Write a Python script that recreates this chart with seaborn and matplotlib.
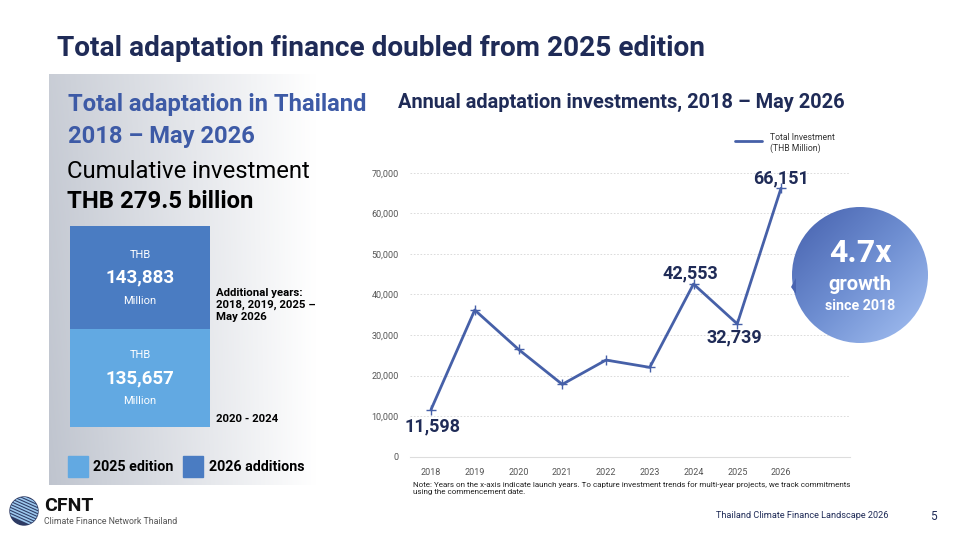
import numpy as np
import pandas as pd
import matplotlib
matplotlib.use("Agg")
import matplotlib.pyplot as plt
import seaborn as sns
from matplotlib.patches import Circle, Rectangle, Polygon
from matplotlib.colors import LinearSegmentedColormap

# ---------------- data ----------------
years = [2018, 2019, 2020, 2021, 2022, 2023, 2024, 2025, 2026]
investment = [11598, 36150, 26455, 17829, 23826, 22019, 42553, 32739, 66151]
labelled_years = [2018, 2024, 2025, 2026]
stack_labels = ["2025 edition", "2026 additions"]
stack_values = [135657, 143883]
y_ticks = [0, 10000, 20000, 30000, 40000, 50000, 60000, 70000]

sns.set_theme(style="white")
plt.rcParams['font.family'] = ['Roboto', 'DejaVu Sans']

NAVY = "#1f2b57"
LINE = "#4660a8"
BLUE_T = "#3d5aa6"
DARK_BLOCK = "#4a7cc2"
LIGHT_BLOCK = "#62a9e2"

fig = plt.figure(figsize=(9.6, 5.4), dpi=100)
W, H = 960, 540

# background axes in pixel coordinates
bg = fig.add_axes([0, 0, 1, 1])
bg.set_xlim(0, W)
bg.set_ylim(H, 0)
bg.axis("off")

# left panel gradient
px0, px1, py0, py1 = 49, 382, 74, 485
gx = np.linspace(0, 1, 300)
gy = np.linspace(0, 1, 200)
GX, GY = np.meshgrid(gx, gy)
shade = np.clip(1 - GX * 1.25, 0, 1) * (0.85 + 0.15 * GY)
c_dark = np.array([0.75, 0.77, 0.81])
img = np.ones((200, 300, 3)) - shade[..., None] * (1 - c_dark)
bg.imshow(img, extent=[px0, px1, py1, py0], aspect="auto", zorder=0)

# title
bg.text(57, 48, "Total adaptation finance doubled from 2025 edition", fontsize=20.2,
        fontweight="bold", color=NAVY, va="center", ha="left")

# left panel texts
bg.text(68, 104, "Total adaptation in Thailand", fontsize=17.1, fontweight="bold",
        color=BLUE_T, va="center")
bg.text(68, 136, "2018 \u2013 May 2026", fontsize=17.1, fontweight="bold",
        color=BLUE_T, va="center")
bg.text(67, 172, "Cumulative investment", fontsize=17.2, color="black", va="center")
bg.text(67, 201, "THB 279.5 billion", fontsize=17.2, fontweight="bold", color="black", va="center")

# stacked box via bar axes
bax = fig.add_axes([70 / W, (H - 427) / H, 140 / W, 201 / H])
bax.bar([0], [stack_values[0]], width=1, color=LIGHT_BLOCK, linewidth=0)
bax.bar([0], [stack_values[1]], bottom=[stack_values[0]], width=1, color=DARK_BLOCK, linewidth=0)
bax.set_xlim(-0.5, 0.5)
bax.set_ylim(0, sum(stack_values))
bax.axis("off")
bottom_acc = 0
for v in stack_values:
    mid = bottom_acc + v / 2
    bax.annotate(f"{v:,}", (0, mid), xytext=(0, 0), textcoords="offset pixels",
                 ha="center", va="center", fontsize=13.5, fontweight="bold", color="white")
    bax.annotate("THB", (0, mid), xytext=(0, 23), textcoords="offset pixels",
                 ha="center", va="center", fontsize=8, color="white")
    bax.annotate("Million", (0, mid), xytext=(0, -23), textcoords="offset pixels",
                 ha="center", va="center", fontsize=8, color="white")
    bottom_acc += v

bg.text(216, 305, "Additional years:\n2018, 2019, 2025 \u2013\nMay 2026", fontsize=8.2,
        fontweight="bold", color="black", va="center", ha="left", linespacing=1.25)
bg.text(216, 419, "2020 - 2024", fontsize=8.2, fontweight="bold", color="black", va="center")

# bottom legend
bg.add_patch(Rectangle((68, 456), 20, 21, color=LIGHT_BLOCK, zorder=2))
bg.text(93, 467, stack_labels[0], fontsize=10.3, fontweight="bold", color="black", va="center")
bg.add_patch(Rectangle((183, 456), 20, 21, color=DARK_BLOCK, zorder=2))
bg.text(209, 467, stack_labels[1], fontsize=10.3, fontweight="bold", color="black", va="center")

# subtitle for line chart
bg.text(398, 102, "Annual adaptation investments, 2018 \u2013 May 2026", fontsize=14.4,
        fontweight="bold", color=NAVY, va="center")

# ---------------- line chart ----------------
ax_l, ax_r = 410, 850
ax_b, ax_t = 456.7, 172.7
ax = fig.add_axes([ax_l / W, (H - ax_b) / H, (ax_r - ax_l) / W, (ax_b - ax_t) / H])
ax.patch.set_alpha(0)
df = pd.DataFrame({"year": years, "investment": investment})
sns.lineplot(data=df, x="year", y="investment", ax=ax, color=LINE, linewidth=2,
             marker="+", markersize=7, markeredgewidth=1, markeredgecolor=LINE,
             label="Total Investment\n(THB Million)", legend=False)
ax.set_xlim(2018 - 21 / 43.75, 2026 + 69 / 43.75)
ax.set_ylim(0, 70000)
ax.set_xticks(years)
ax.set_xticklabels([str(y) for y in years])
ax.set_yticks(y_ticks)
ax.set_yticklabels([f"{t:,}" for t in y_ticks])
ax.tick_params(axis="both", labelsize=6.5, labelcolor="#555555", length=0)
ax.tick_params(axis="x", pad=8)
ax.tick_params(axis="y", pad=8)
ax.set_xlabel("")
ax.set_ylabel("")
for s in ["top", "right", "left"]:
    ax.spines[s].set_visible(False)
ax.spines["bottom"].set_color("#dddddd")
ax.spines["bottom"].set_linewidth(0.8)
for t in y_ticks[1:]:
    ax.axhline(t, color="#d6d6d6", linestyle=(0, (2, 2)), linewidth=0.6, zorder=0)

offsets = {2018: (2, -17), 2024: (-3, 11), 2025: (-3, -14), 2026: (0, 10)}
for y, v in zip(years, investment):
    if y in labelled_years:
        ax.annotate(f"{v:,}", (y, v), xytext=offsets[y], textcoords="offset pixels",
                    ha="center", va="center", fontsize=13, fontweight="bold", color=NAVY)

# legend (manual)
bg.plot([735, 762], [141, 141], color=LINE, linewidth=2)
bg.text(770, 143, "Total Investment\n(THB Million)", fontsize=6.2, color="#333333",
        va="center", ha="left", linespacing=1.1)

# overlay axes (drawn above the line chart) for the growth bubble
ov = fig.add_axes([0, 0, 1, 1])
ov.patch.set_alpha(0)
ov.axis("off")
cx, cy, r = 860, 275, 68
cmap = LinearSegmentedColormap.from_list("bub", ["#4560ad", "#6f8fd2", "#a6c2f3"])
gg = np.linspace(0, 1, 200)
GGX, GGY = np.meshgrid(gg, gg)
grad = np.clip((GGX + GGY) / 2, 0, 1)
bub = ov.imshow(grad, cmap=cmap, extent=[cx - r, cx + r, cy + r, cy - r],
                aspect="auto", zorder=3, interpolation="bilinear")
ov.set_xlim(0, W)
ov.set_ylim(H, 0)
clip = Circle((cx, cy), r, transform=ov.transData)
bub.set_clip_path(clip)
ov.add_patch(Polygon([[796, 278], [796, 294], [791, 287]], closed=True,
                     color="#4a65b0", zorder=3, linewidth=0))
ov.text(cx, 253, "4.7x", fontsize=23, fontweight="bold", color="white", ha="center",
        va="center", zorder=4)
ov.text(cx, 284, "growth", fontsize=14.5, fontweight="bold", color="white", ha="center",
        va="center", zorder=4)
ov.text(cx, 306, "since 2018", fontsize=10.3, fontweight="bold", color="white", ha="center",
        va="center", zorder=4)

# note
bg.text(413, 488.5, "Note: Years on the x-axis indicate launch years. To capture investment trends for "
        "multi-year projects, we track commitments\nusing the commencement date.",
        fontsize=5.75, color="#222222", va="center", ha="left", linespacing=1.2)

# footer
bg.text(888, 516, "Thailand Climate Finance Landscape 2026", fontsize=6.6, color="#1f2b57",
        ha="right", va="center")
bg.text(933, 516, "5", fontsize=8.5, color="#1f2b57", ha="center", va="center")

# logo
lx, ly, lr = 24, 511, 14
logo_bg = Circle((lx, ly), lr, color="#2d3a63", zorder=3)
bg.add_patch(logo_bg)
for k in range(-14, 15, 3):
    ln, = bg.plot([lx - 20, lx + 20], [ly + k - 12, ly + k + 6], color="#9cc8ee",
                  linewidth=1.2, zorder=4)
    ln.set_clip_path(Circle((lx, ly), lr, transform=bg.transData))
bg.set_xlim(0, W)
bg.set_ylim(H, 0)
bg.text(44, 506, "CFNT", fontsize=14, fontweight="bold", color="#111111", va="center")
bg.text(44, 521, "Climate Finance Network Thailand", fontsize=6.3, color="#555555", va="center")

fig.savefig("out.png", dpi=100)
